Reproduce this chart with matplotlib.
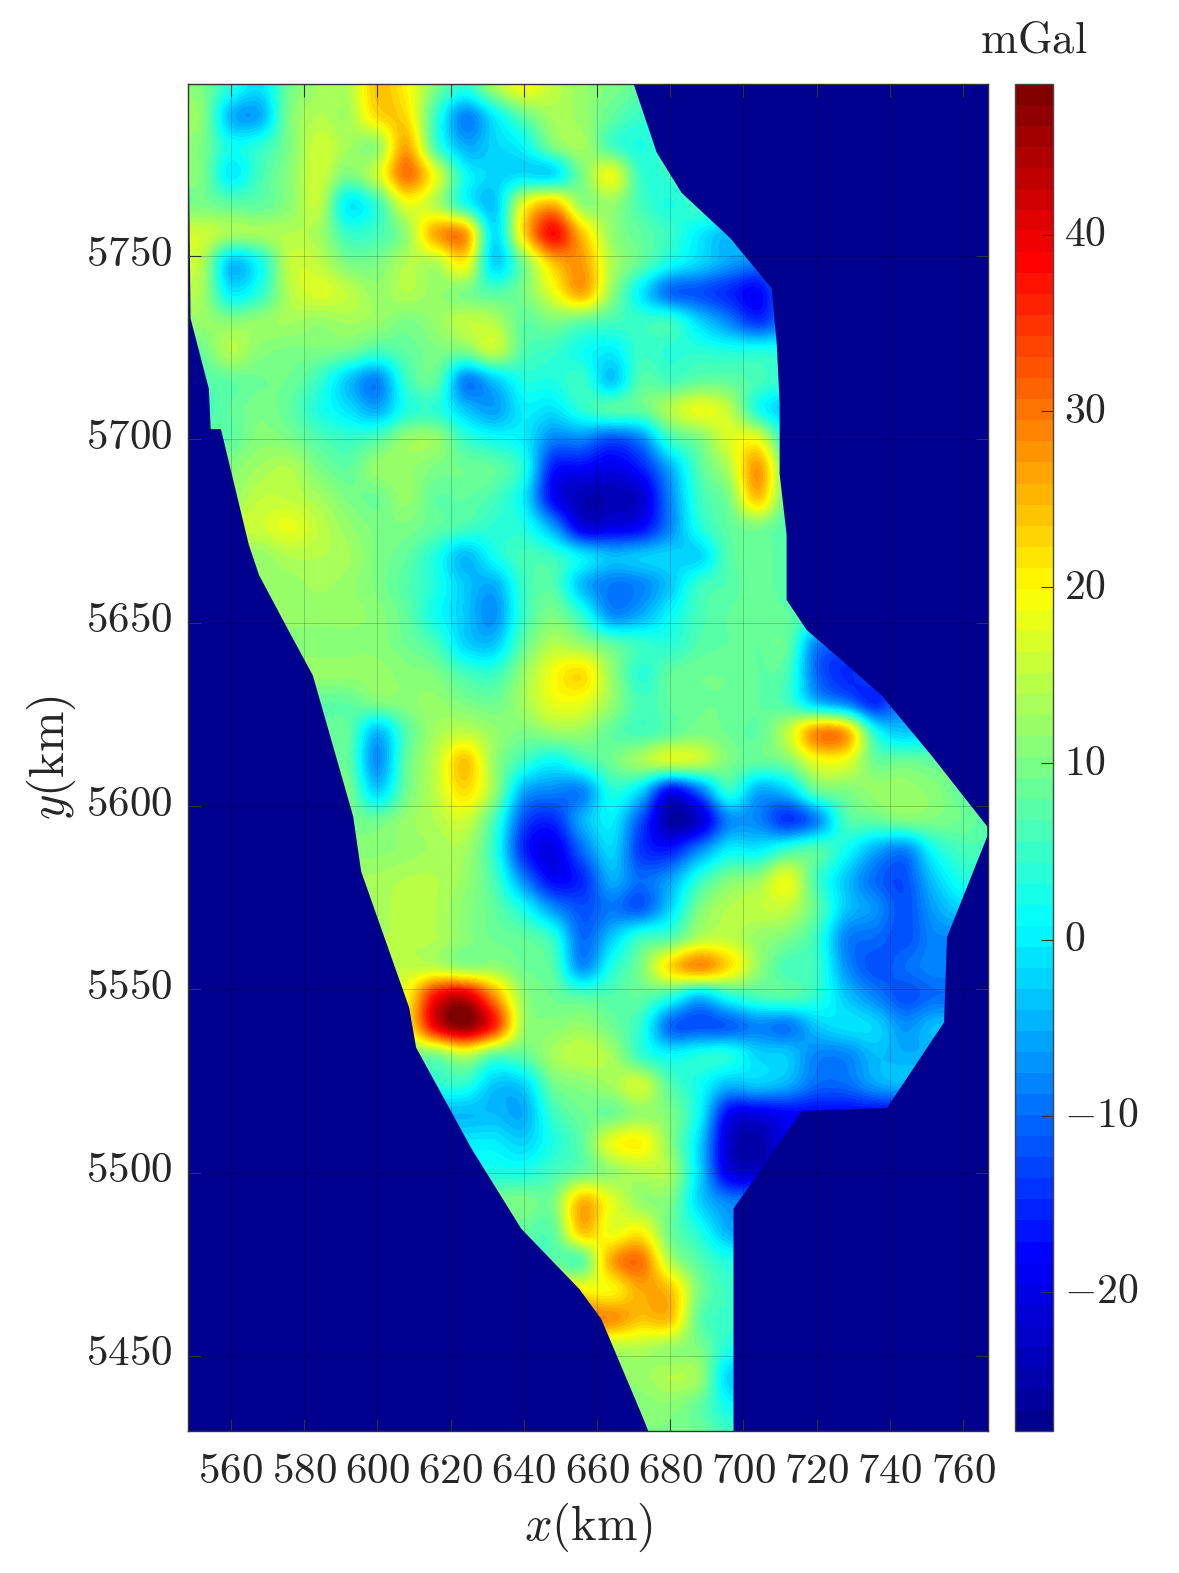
import matplotlib
matplotlib.use("Agg")
import numpy as np
import matplotlib.pyplot as plt
from matplotlib.colors import LinearSegmentedColormap
from matplotlib.patches import Polygon
from matplotlib.transforms import ScaledTranslation

plt.rcParams["mathtext.fontset"] = "cm"
plt.rcParams["font.family"] = "DejaVu Serif"

TEXT_COLOR = "#262626"

# anomaly grid, mGal, every 8 km
grid_x = list(range(552, 769, 8))
grid_y = list(range(5796, 5427, -8))
gravity = [
    [10, 3, -1, 9, 13, 14, 24, 20, 10, 4, 13, 19, 15, 12, 10, 8, 8, 8, 8, 8, 8, 8, 8, 8, 8, 8, 8, 8],
    [11, -4, -5, 10, 14, 13, 22, 22, 5, -8, 0, 8, 13, 12, 8, 5, 5, 5, 5, 5, 5, 5, 5, 5, 5, 5, 5, 5],
    [10, 2, 4, 10, 16, 13, 12, 26, 6, -5, -2, 1, 10, 13, 6, 3, 6, 6, 6, 6, 6, 6, 6, 6, 6, 6, 6, 6],
    [10, 0, 6, 11, 16, 10, 16, 30, 18, 2, -2, -1, -1, 10, 18, 5, 5, 8, 8, 8, 8, 8, 8, 8, 8, 8, 8, 8],
    [10, 8, 8, 11, 15, 0, 5, 18, 14, 3, -3, 18, 25, 12, 12, 6, 3, 6, 8, 8, 8, 8, 8, 8, 8, 8, 8, 8],
    [16, 13, 13, 14, 13, 5, 6, 12, 26, 27, -1, 22, 38, 24, 12, 8, 5, 0, -3, 5, 5, 5, 5, 5, 5, 5, 5, 5],
    [14, -3, 2, 15, 15, 10, 10, 14, 14, 20, -2, 10, 24, 27, 14, 8, 2, -2, -6, -8, -5, -5, -5, -5, -5, -5, -5, -5],
    [13, 0, 4, 14, 17, 15, 12, 14, 12, 10, 7, 10, 18, 26, 12, 0, -10, -12, -15, -18, -8, -8, -8, -8, -8, -8, -8, -8],
    [12, 11, 12, 13, 12, 13, 12, 10, 12, 15, 14, 8, 10, 8, 6, 5, 5, -2, -8, -14, -8, -8, -8, -8, -8, -8, -8, -8],
    [9, 14, 11, 10, 10, 9, 6, 8, 10, 10, 15, 7, 5, 2, 0, 5, 4, 4, 3, 3, 3, 3, 3, 3, 3, 3, 3, 3],
    [7, 8, 9, 9, 5, -3, -8, 5, 8, -8, -3, 3, 3, 5, -3, 7, 6, 8, 8, 6, 4, 4, 4, 4, 4, 4, 4, 4],
    [6, 8, 10, 8, 3, -1, -5, 3, 4, -3, -6, 0, -1, 4, 7, 8, 14, 18, 15, 3, -3, -3, -3, -3, -3, -3, -3, -3],
    [8, 8, 11, 10, 7, 5, 7, 12, 12, 5, 2, 0, -8, -8, -12, -8, 5, 10, 17, 18, 3, 3, 3, 3, 3, 3, 3, 3],
    [11, 11, 13, 14, 10, 8, 12, 12, 10, 9, 8, 3, -16, -18, -20, -16, -5, 7, 14, 27, 8, 8, 8, 8, 8, 8, 8, 8],
    [12, 12, 15, 15, 13, 10, 9, 12, 8, 8, 6, 0, -18, -24, -24, -22, -8, 5, 10, 24, 8, 8, 8, 8, 8, 8, 8, 8],
    [16, 16, 16, 18, 15, 12, 10, 10, 8, 6, 4, 3, -6, -20, -20, -18, -8, 3, 8, 10, 7, 7, 7, 7, 7, 7, 7, 7],
    [12, 12, 12, 14, 14, 13, 10, 8, 3, -4, 2, 6, 5, 0, -4, -3, -2, -2, 7, 9, 7, 7, 7, 7, 7, 7, 7, 7],
    [12, 12, 12, 12, 13, 12, 10, 7, 3, -3, -5, 5, 7, -4, -9, -8, -3, 5, 7, 9, 7, 7, 7, 7, 7, 7, 7, 7],
    [12, 12, 12, 12, 12, 12, 11, 8, 2, -3, -7, 5, 10, 4, -7, -5, 1, 6, 8, 9, 8, 6, 6, 6, 6, 6, 6, 6],
    [11, 11, 11, 11, 11, 11, 11, 9, 6, -2, -3, 8, 14, 12, 8, 5, 4, 7, 8, 8, 8, -8, -10, -10, -10, -10, -10, -10],
    [12, 12, 12, 12, 12, 12, 12, 11, 10, 6, 5, 12, 19, 22, 12, 4, 8, 9, 9, 8, 6, -10, -15, -12, -12, -12, -12, -12],
    [8, 8, 8, 8, 8, 8, 10, 11, 12, 10, 9, 13, 18, 18, 12, 6, 8, 9, 9, 8, 6, -3, -8, -15, -8, -8, -8, -8],
    [8, 8, 8, 8, 8, 8, -4, 7, 13, 15, 12, 10, 12, 12, 8, 6, 8, 10, 9, 8, 15, 28, 26, 3, -3, 0, 0, 0],
    [8, 8, 8, 8, 8, 8, -7, 8, 15, 24, 12, 5, 1, 5, 9, 13, 16, 15, 10, 8, 10, 18, 18, 9, 9, 8, 8, 8],
    [10, 10, 10, 10, 10, 10, -2, 9, 15, 22, 12, -5, -8, -8, 3, -2, -18, -10, 4, -5, -3, 8, 10, 12, 12, 11, 8, 8],
    [10, 10, 10, 10, 10, 10, 9, 12, 14, 16, 6, -12, -15, -5, 0, -12, -25, -22, -8, -8, -14, -8, 6, 8, 10, 10, 9, 7],
    [11, 11, 11, 11, 11, 11, 11, 12, 13, 13, 4, -15, -20, -10, -2, -14, -16, -8, 0, 0, 5, 7, 2, -5, -8, 2, 6, 6],
    [13, 13, 13, 13, 13, 13, 13, 14, 14, 12, 6, -8, -18, -15, -5, -10, -6, 4, 10, 12, 18, 6, -3, -10, -12, -3, 3, 3],
    [13, 13, 13, 13, 13, 13, 13, 15, 14, 11, 8, 2, -7, -12, -9, -11, -2, 10, 14, 15, 15, 8, -3, -7, -12, -6, -2, -2],
    [14, 14, 14, 14, 14, 14, 14, 14, 14, 11, 9, 8, 4, -10, -3, 5, 7, 14, 15, 12, 10, 5, -8, -10, -12, -8, -8, -8],
    [15, 15, 15, 15, 15, 15, 15, 15, 15, 12, 12, 9, 7, -7, 3, 10, 22, 28, 22, 12, 6, 5, -7, -12, -10, -8, -8, -8],
    [20, 20, 20, 20, 20, 20, 20, 20, 38, 42, 28, 12, 9, 7, 7, 8, 4, -3, 3, 6, 7, 4, -3, -8, -12, -10, -10, -10],
    [20, 20, 20, 20, 20, 20, 20, 20, 40, 47, 36, 13, 11, 12, 9, 4, -10, -12, -11, -8, -9, -3, -1, -2, -7, -4, -4, -4],
    [10, 10, 10, 10, 10, 10, 10, 10, 10, 15, 8, 8, 13, 15, 13, 5, 1, 3, 3, -2, -3, -8, -8, -4, -5, -5, -5, -5],
    [4, 4, 4, 4, 4, 4, 4, 4, 4, 4, -3, -2, 9, 11, 13, 16, 7, 2, -4, -3, -5, -10, -10, -6, -4, -4, -4, -4],
    [-4, -4, -4, -4, -4, -4, -4, -4, -4, -4, -4, -5, 5, 9, 9, 12, 10, 1, -18, -20, -18, -18, -18, -18, -18, -18, -18, -18],
    [0, 0, 0, 0, 0, 0, 0, 0, 0, 0, 0, -2, 3, 8, 18, 20, 11, -2, -22, -25, -20, -20, -20, -20, -20, -20, -20, -20],
    [3, 3, 3, 3, 3, 3, 3, 3, 3, 3, 3, 3, 6, 9, 12, 14, 13, -2, -20, -22, -22, -22, -22, -22, -22, -22, -22, -22],
    [10, 10, 10, 10, 10, 10, 10, 10, 10, 10, 10, 10, 10, 25, 18, 12, 10, -2, -8, -8, -8, -8, -8, -8, -8, -8, -8, -8],
    [8, 8, 8, 8, 8, 8, 8, 8, 8, 8, 8, 8, 8, 24, 18, 20, 9, 3, -5, -5, -5, -5, -5, -5, -5, -5, -5, -5],
    [8, 8, 8, 8, 8, 8, 8, 8, 8, 8, 8, 8, 8, 8, 26, 30, 14, 7, 3, 3, 3, 3, 3, 3, 3, 3, 3, 3],
    [20, 20, 20, 20, 20, 20, 20, 20, 20, 20, 20, 20, 20, 20, 20, 26, 24, 10, 5, 5, 5, 5, 5, 5, 5, 5, 5, 5],
    [28, 28, 28, 28, 28, 28, 28, 28, 28, 28, 28, 28, 28, 28, 28, 24, 24, 8, 5, 5, 5, 5, 5, 5, 5, 5, 5, 5],
    [14, 14, 14, 14, 14, 14, 14, 14, 14, 14, 14, 14, 14, 14, 14, 14, 12, 10, 3, 3, 3, 3, 3, 3, 3, 3, 3, 3],
    [12, 12, 12, 12, 12, 12, 12, 12, 12, 12, 12, 12, 12, 12, 12, 12, 14, 12, -2, -2, -2, -2, -2, -2, -2, -2, -2, -2],
    [11, 11, 11, 11, 11, 11, 11, 11, 11, 11, 11, 11, 11, 11, 11, 11, 11, 8, 2, 2, 2, 2, 2, 2, 2, 2, 2, 2],
    [10, 10, 10, 10, 10, 10, 10, 10, 10, 10, 10, 10, 10, 10, 10, 10, 10, 9, 6, 6, 6, 6, 6, 6, 6, 6, 6, 6],
]

# survey outline in km
outline_x = [548.5, 670, 676.3, 683.1, 696.3, 707.7, 709.1, 709.9, 709.9, 711.8, 711.8, 717.3,
             726.9, 737.8, 751.5, 766.6, 766.6, 755.6, 754.8, 739.2, 716, 697.3, 697.3, 674.4,
             672.2, 661.2, 655.2, 639.3, 625.7, 610.6, 608.7, 595.6, 593.4, 582.4, 575, 567.7,
             564.9, 557.3, 554.5, 554, 549, 548.5]
outline_y = [5797, 5797, 5778.3, 5767.3, 5755, 5741.2, 5726.1, 5709.7, 5690.5, 5674, 5656.2, 5648,
             5639.7, 5630.1, 5613.6, 5594.4, 5591.7, 5564.2, 5541, 5517.6, 5516.8, 5490.2, 5428.5, 5428.5,
             5434, 5460, 5468.2, 5484.7, 5506.6, 5534.1, 5545, 5582.1, 5597.2, 5635.6, 5649.3, 5663,
             5671.3, 5702.8, 5702.8, 5713.8, 5733, 5778]

x_ticks = list(range(560, 761, 20))
y_ticks = [5450, 5500, 5550, 5600, 5650, 5700, 5750]
cbar_ticks = [-20, -10, 0, 10, 20, 30, 40]


def matlab_jet():
    anchors = [
        (0.0, (0, 0, 0.5625)),
        (0.125, (0, 0, 1)),
        (0.375, (0, 1, 1)),
        (0.625, (1, 1, 0)),
        (0.875, (1, 0, 0)),
        (1.0, (0.5, 0, 0)),
    ]
    return LinearSegmentedColormap.from_list("matlab_jet", anchors, N=64)


def style_ticks(ax):
    ax.tick_params(
        axis="both", which="major", direction="in", length=9, width=0.8,
        color="#333333", labelcolor=TEXT_COLOR, top=True, right=True,
    )


def nudge_labels(fig, labels, dy_px):
    # mathtext sits a bit low against the tick, lift it
    offset = ScaledTranslation(0, dy_px / fig.dpi, fig.dpi_scale_trans)
    for label in labels:
        label.set_transform(label.get_transform() + offset)


def main():
    cmap = matlab_jet()
    W, H = 1179, 1573

    fig = plt.figure(figsize=(W / 100, H / 100), dpi=100)
    ax = fig.add_axes([188 / W, 1 - 1431 / H, 800 / W, 1347.5 / H])
    ax.set_facecolor(cmap(0))

    half = 4
    im = ax.imshow(
        np.array(gravity, dtype=float),
        cmap=cmap,
        vmin=-27.9,
        vmax=48.6,
        extent=[grid_x[0] - half, grid_x[-1] + half, grid_y[-1] - half, grid_y[0] + half],
        aspect="auto",
        interpolation="catrom",
        interpolation_stage="data",
        zorder=1,
    )
    mask = Polygon(np.column_stack([outline_x, outline_y]), closed=True, transform=ax.transData)
    im.set_clip_path(mask)

    ax.set_xlim(548.3, 766.8)
    ax.set_ylim(5429.5, 5797.1)
    ax.set_xticks(x_ticks)
    ax.set_xticklabels([f"${v}$" for v in x_ticks], fontsize=31)
    ax.set_yticks(y_ticks)
    ax.set_yticklabels([f"${v}$" for v in y_ticks], fontsize=31)
    ax.grid(True, color="black", linewidth=0.7, alpha=0.2, zorder=2)
    ax.set_axisbelow(False)
    style_ticks(ax)
    ax.tick_params(axis="x", pad=14)
    ax.tick_params(axis="y", pad=11)
    nudge_labels(fig, ax.get_yticklabels(), 7)
    ax.set_xlabel(r"$x(\mathrm{km})$", fontsize=35, color=TEXT_COLOR, labelpad=6)
    ax.set_ylabel(r"$y(\mathrm{km})$", fontsize=35, color=TEXT_COLOR, labelpad=6)
    for spine in ax.spines.values():
        spine.set_color("#333333")
        spine.set_linewidth(1.0)

    cax = fig.add_axes([1015 / W, 1 - 1431 / H, 38 / W, 1347.5 / H])
    cbar = fig.colorbar(im, cax=cax)
    cbar.set_ticks(cbar_ticks)
    cbar.set_ticklabels([f"${v}$" for v in cbar_ticks], fontsize=30)
    cax.tick_params(direction="in", length=9, width=0.8, color="#333333",
                    labelcolor=TEXT_COLOR, pad=8)
    nudge_labels(fig, cax.get_yticklabels(), 5)
    cbar.outline.set_edgecolor("#444444")
    cbar.outline.set_linewidth(1.0)
    cax.text(0.5, 1.016, r"$\mathrm{mGal}$", transform=cax.transAxes, ha="center", va="bottom",
             fontsize=32, color=TEXT_COLOR)

    fig.savefig("out.png", dpi=100)
    plt.close(fig)


if __name__ == "__main__":
    main()
